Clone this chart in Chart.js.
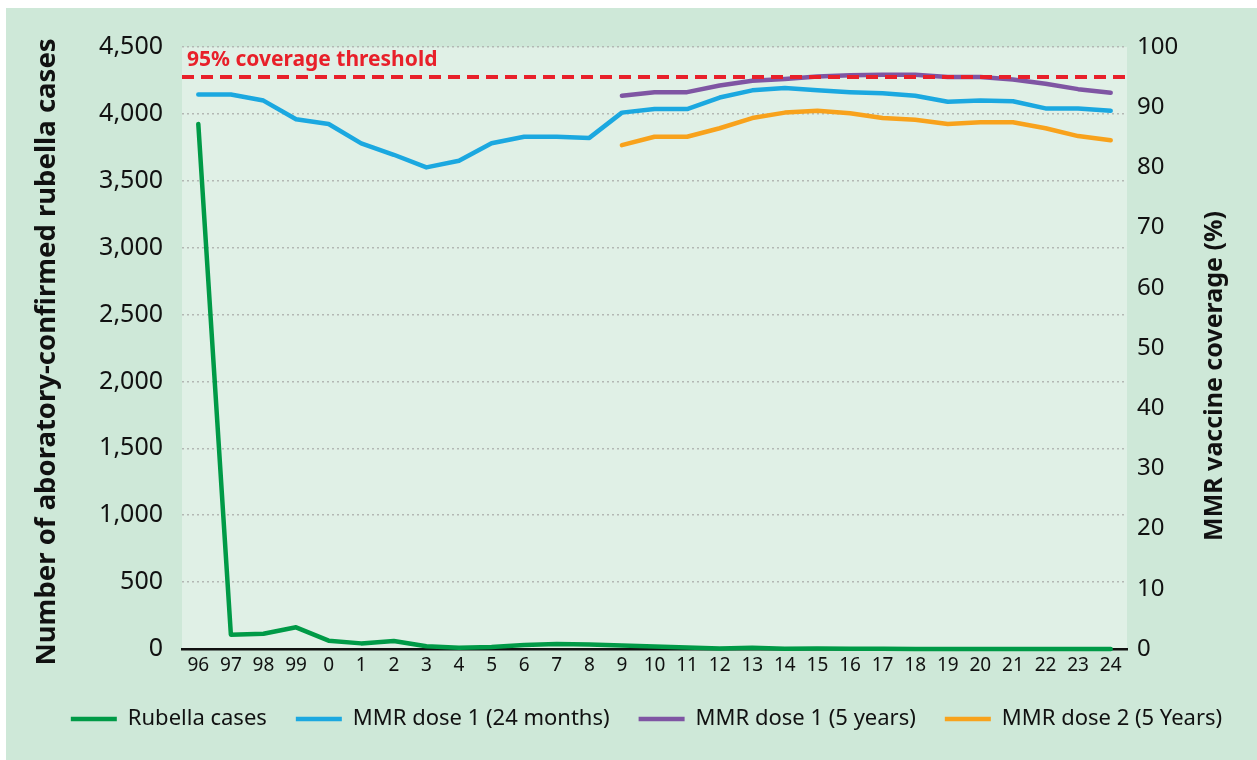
<!DOCTYPE html>
<html>
<head>
<meta charset="utf-8">
<script src="https://cdn.jsdelivr.net/npm/chart.js@4.4.1/dist/chart.umd.min.js"></script>
<style>
  html, body { margin: 0; padding: 0; background: #fff; }
  #panel { position: absolute; left: 6px; top: 8px; width: 1251px; height: 752px; background: #cee8d8; }
</style>
</head>
<body>
<div id="panel"><canvas id="myChart" width="1251" height="752"></canvas></div>
<script>

// years (96/97 ... 23/24), shown as short labels
var years = ['96', '97', '98', '99', '0', '1', '2', '3', '4', '5', '6', '7', '8', '9',
             '10', '11', '12', '13', '14', '15', '16', '17', '18', '19', '20', '21', '22', '23', '24'];

// laboratory-confirmed rubella cases (left axis)
var rubellaCases = [3925, 107, 114, 162, 62, 42, 60, 20, 10, 15, 30, 37, 34, 26,
                    19, 11, 3, 10, 2, 3, 1, 1, 0, 0, 0, 0, 0, 0, 0];

// coverage in % (right axis)
var mmr1At24m = [92.1, 92.1, 91.1, 88.0, 87.2, 84.0, 82.1, 80.0, 81.1, 84.0, 85.1, 85.1, 84.9, 89.1,
                 89.7, 89.7, 91.6, 92.8, 93.2, 92.8, 92.5, 92.3, 91.9, 90.9, 91.1, 91.0, 89.8, 89.8, 89.4];

var mmr1At5y = [null, null, null, null, null, null, null, null, null, null, null, null, null,
                91.9, 92.5, 92.5, 93.6, 94.4, 94.7, 95.1, 95.3, 95.4, 95.4, 95.0, 95.0, 94.6, 93.9, 93.0, 92.4];

var mmr2At5y = [null, null, null, null, null, null, null, null, null, null, null, null, null,
                83.7, 85.1, 85.1, 86.5, 88.2, 89.1, 89.4, 89.0, 88.2, 87.9, 87.2, 87.5, 87.5, 86.5, 85.2, 84.5];

var threshold = 95;
var casesMax = 4500, casesStep = 500;
var coverageMax = 100, coverageStep = 10;

var leftTitle = 'Number of aboratory-confirmed rubella cases';
var rightTitle = 'MMR vaccine coverage (%)';

Chart.defaults.font.family = '"Noto Sans", sans-serif';
Chart.defaults.color = '#111';

// background of plot area, threshold line and axis titles
var extras = {
    id: 'extras',
    beforeDraw: function (chart) {
        var a = chart.chartArea;
        var ctx = chart.ctx;
        ctx.save();
        ctx.fillStyle = '#e0f0e6';
        ctx.fillRect(a.left, a.top, a.right - a.left, a.bottom - a.top);
        ctx.restore();
    },
    afterDatasetsDraw: function (chart) {
        var a = chart.chartArea;
        var ctx = chart.ctx;
        var y = chart.scales.y1.getPixelForValue(threshold);
        ctx.save();
        ctx.strokeStyle = '#e8202a';
        ctx.lineWidth = 4;
        ctx.setLineDash([12, 7]);
        ctx.beginPath();
        ctx.moveTo(a.left, y);
        ctx.lineTo(a.right, y);
        ctx.stroke();
        ctx.setLineDash([]);
        ctx.fillStyle = '#e8202a';
        ctx.font = 'bold 21px "Noto Sans"';
        ctx.textBaseline = 'alphabetic';
        ctx.fillText(threshold + '% coverage threshold', a.left + 5, y - 11);
        ctx.restore();
    },
    afterDraw: function (chart) {
        var ctx = chart.ctx;
        ctx.save();
        ctx.fillStyle = '#111';
        ctx.font = 'bold 27.5px "Noto Sans"';
        ctx.textAlign = 'center';
        ctx.textBaseline = 'middle';
        ctx.translate(41, 344);
        ctx.rotate(-Math.PI / 2);
        ctx.fillText(leftTitle, 0, 0);
        ctx.restore();

        ctx.save();
        ctx.fillStyle = '#111';
        ctx.font = 'bold 25px "Noto Sans"';
        ctx.textAlign = 'center';
        ctx.textBaseline = 'middle';
        ctx.translate(1209, 368);
        ctx.rotate(-Math.PI / 2);
        ctx.fillText(rightTitle, 0, 0);
        ctx.restore();
    }
};

function lineSet(label, data, color, axis, width) {
    return {
        label: label,
        data: data,
        yAxisID: axis,
        borderColor: color,
        backgroundColor: color,
        borderWidth: width,
        pointRadius: 0,
        tension: 0,
        borderCapStyle: 'round',
        borderJoinStyle: 'round',
        spanGaps: false,
        clip: false
    };
}

var ctx = document.getElementById('myChart').getContext('2d');

window.myChart = new Chart(ctx, {
    type: 'line',
    data: {
        labels: years,
        datasets: [
            lineSet('Rubella cases', rubellaCases, '#009a47', 'y', 4.5),
            lineSet('MMR dose 1 (24 months)', mmr1At24m, '#1ba8e0', 'y1', 4.5),
            lineSet('MMR dose 1 (5 years)', mmr1At5y, '#7f55a3', 'y1', 4.5),
            lineSet('MMR dose 2 (5 Years)', mmr2At5y, '#f8a21c', 'y1', 4.5)
        ]
    },
    options: {
        responsive: false,
        animation: false,
        layout: { padding: { top: 39, left: 30, right: 0, bottom: 20 } },
        plugins: {
            tooltip: { enabled: false },
            legend: {
                position: 'bottom',
                labels: {
                    usePointStyle: true,
                    pointStyle: 'line',
                    pointStyleWidth: 46,
                    padding: 29,
                    font: { size: 22 },
                    color: '#111'
                }
            }
        },
        scales: {
            x: {
                offset: true,
                grid: { display: false, drawTicks: false },
                border: { display: true, color: '#111', width: 2.5 },
                ticks: { autoSkip: false, maxRotation: 0, padding: 5, font: { size: 19 }, color: '#111' },
                afterFit: function (scale) { scale.height = 30; }
            },
            y: {
                position: 'left',
                min: 0,
                max: casesMax,
                grid: {
                    drawTicks: false,
                    color: function (c) { return c.tick && c.tick.value === 0 ? 'rgba(0,0,0,0)' : '#b3b8b4'; },
                    lineWidth: 1.5
                },
                border: { display: false, dash: [2, 3] },
                ticks: {
                    stepSize: casesStep,
                    padding: 19,
                    font: { size: 25 },
                    color: '#111',
                    callback: function (v) { return v.toLocaleString('en-US'); }
                },
                afterFit: function (scale) { scale.width = 146; }
            },
            y1: {
                position: 'right',
                min: 0,
                max: coverageMax,
                grid: { display: false, drawTicks: false },
                border: { display: false },
                ticks: { stepSize: coverageStep, padding: 10, font: { size: 24 }, color: '#111' },
                afterFit: function (scale) { scale.width = 130; }
            }
        }
    },
    plugins: [extras]
});

</script>
</body>
</html>
